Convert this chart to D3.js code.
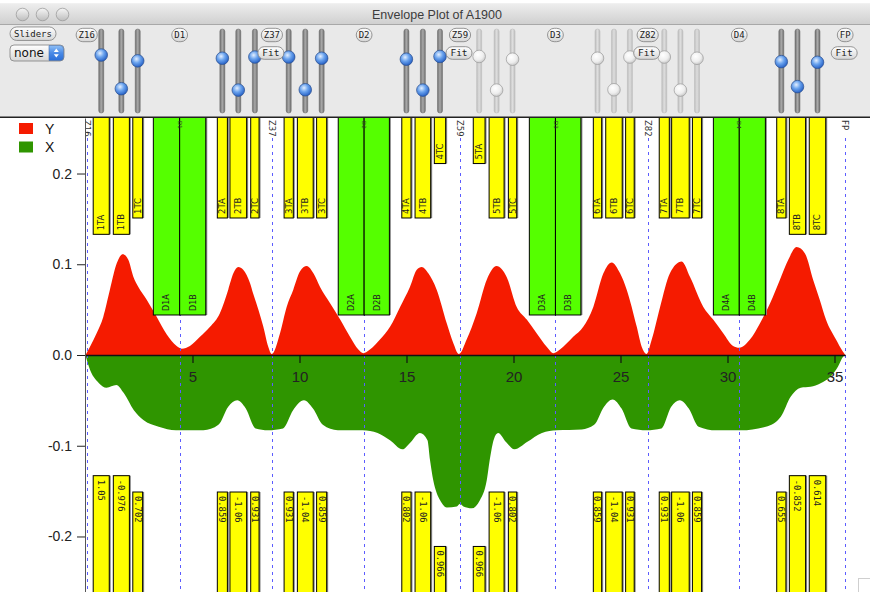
<!DOCTYPE html>
<html><head><meta charset="utf-8">
<script src="https://cdn.jsdelivr.net/npm/d3@7"></script>
<style>html,body{margin:0;padding:0;background:#fff;overflow:hidden}</style>
</head><body>
<svg id="c" width="870" height="592"></svg>
<script>
// ---------------- data ----------------
const title = "Envelope Plot of A1900";
const xTicks = [5, 10, 15, 20, 25, 30, 35];
const yTicks = [-0.2, -0.1, 0.0, 0.1, 0.2];
const seriesNames = ["Y", "X"];

// Y envelope (positive, red)
const envYs = [0,0.21,0.52,0.83,1.14,1.46,1.74,2.0,2.24,2.47,2.86,3.33,3.79,4.26,4.5,4.88,5.35,5.82,6.28,6.67,6.91,7.14,7.37,7.69,7.83,8.08,8.31,8.54,8.7,9.09,9.4,9.71,10.02,10.34,10.65,10.96,11.43,11.9,12.36,12.75,12.98,13.29,13.76,14.23,14.7,15.16,15.48,15.71,16.02,16.41,16.88,17.19,17.45,17.81,18.28,18.75,19.21,19.68,20.15,20.62,21.08,21.55,21.86,22.17,22.79,23.26,23.73,24.2,24.59,24.98,25.29,25.76,25.99,26.22,26.46,26.85,27.31,27.86,28.25,28.87,29.33,29.8,30.26,30.55,31.05,31.52,31.99,32.45,32.84,33.23,33.62,34.0,34.31,34.6,35.07,35.38,35.5];
const envYv = [0,0.009,0.024,0.042,0.072,0.101,0.111,0.105,0.086,0.075,0.061,0.042,0.023,0.010,0.007,0.010,0.020,0.031,0.046,0.072,0.090,0.097,0.094,0.079,0.068,0.050,0.031,0.009,0.001,0.024,0.053,0.072,0.092,0.098,0.090,0.075,0.057,0.039,0.020,0.006,0.002,0.006,0.017,0.031,0.053,0.075,0.094,0.097,0.090,0.072,0.035,0.013,0.001,0.017,0.046,0.083,0.098,0.086,0.053,0.039,0.024,0.009,0.002,0.006,0.020,0.031,0.053,0.090,0.102,0.090,0.072,0.031,0.009,0.001,0.017,0.053,0.090,0.103,0.086,0.053,0.039,0.024,0.010,0.008,0.017,0.035,0.057,0.083,0.105,0.119,0.112,0.083,0.061,0.039,0.017,0.004,0];

// X envelope (negative, green)
const envXs = [0,0.16,0.63,0.98,1.44,1.79,2.26,2.72,3.42,4.23,5.51,6.21,6.67,7.09,7.49,7.95,8.53,9.23,9.7,10.21,10.63,11.09,11.79,12.95,13.65,14.23,14.81,15.16,15.63,15.98,16.1,16.25,16.41,16.57,16.88,17.35,17.5,17.66,18.05,18.43,18.75,18.9,19.08,19.28,19.65,20.05,20.63,21.33,22.02,23.19,23.77,24.23,24.63,25.05,25.51,26.21,26.91,27.37,27.77,28.19,28.65,29.47,30.63,31.79,32.49,32.95,33.42,33.88,34.35,34.81,35.16,35.4,35.5];
const envXv = [0,-0.013,-0.031,-0.036,-0.033,-0.042,-0.061,-0.072,-0.079,-0.083,-0.083,-0.077,-0.057,-0.050,-0.059,-0.081,-0.083,-0.081,-0.061,-0.050,-0.059,-0.077,-0.083,-0.083,-0.086,-0.094,-0.104,-0.097,-0.086,-0.094,-0.116,-0.138,-0.152,-0.160,-0.168,-0.167,-0.164,-0.167,-0.169,-0.160,-0.138,-0.114,-0.093,-0.086,-0.096,-0.104,-0.096,-0.086,-0.083,-0.082,-0.077,-0.057,-0.049,-0.059,-0.081,-0.083,-0.081,-0.057,-0.050,-0.059,-0.079,-0.083,-0.083,-0.079,-0.068,-0.046,-0.036,-0.035,-0.031,-0.024,-0.013,-0.002,0];

// optical markers
const markerNames = ["Z16","D1","Z37","D2","Z59","D3","Z82","D4","FP"];
const markerPos   = [0.08, 4.40, 8.71, 13.02, 17.5, 21.96, 26.27, 30.55, 35.5];
const fitMarkers  = ["Z37","Z59","Z82","FP"];

// quadrupoles
const quadNames = ["1TA","1TB","1TC","2TA","2TB","2TC","3TA","3TB","3TC","4TA","4TB","4TC","5TA","5TB","5TC","6TA","6TB","6TC","7TA","7TB","7TC","8TA","8TB","8TC"];
const quadStart = [0.36,1.30,2.21,6.16,6.75,7.72,9.28,9.90,10.80,14.78,15.40,16.30,18.12,18.86,19.76,23.73,24.31,25.24,26.81,27.39,28.36,32.30,32.89,33.82];
const quadEnd   = [1.11,2.05,2.67,6.63,7.53,8.11,9.71,10.64,11.27,15.21,16.13,16.83,18.67,19.56,20.15,24.12,25.08,25.64,27.28,28.21,28.79,32.73,33.65,34.59];
const quadStrength = ["1.05","-0.976","0.702","0.859","-1.06","0.931","0.931","-1.04","0.859","0.802","-1.06","0.966","0.966","-1.06","0.802","0.859","-1.04","0.931","0.931","-1.06","0.859","0.655","-0.852","0.614"];
const quadReach = [0.133,0.133,0.151,0.151,0.151,0.151,0.151,0.151,0.151,0.151,0.151,0.211,0.211,0.151,0.151,0.151,0.151,0.151,0.151,0.151,0.151,0.151,0.133,0.133];
const quadSliderOn = [1,1,1,1,1,1,1,1,1,1,1,1,0,0,0,0,0,0,0,0,0,1,1,1];

// dipoles
const dipoleNames = ["D1A","D1B","D2A","D2B","D3A","D3B","D4A","D4B"];
const dipoleStart = [3.17,4.40,11.81,13.02,20.74,21.96,29.34,30.55];
const dipoleEnd   = [4.40,5.62,13.02,14.20,21.96,23.15,30.55,31.77];
const dipoleReach = 0.0441;

// ---------------- drawing ----------------
const W = 870, H = 592;
const svg = d3.select("#c");
const defs = svg.append("defs");

function linGrad(id, stops, vertical=true){
  const g = defs.append("linearGradient").attr("id", id)
    .attr("x1",0).attr("y1",0).attr("x2", vertical?0:1).attr("y2", vertical?1:0);
  stops.forEach(s => g.append("stop").attr("offset", s[0]).attr("stop-color", s[1]));
}
function radGrad(id, stops){
  const g = defs.append("radialGradient").attr("id", id).attr("cx","40%").attr("cy","35%").attr("r","70%");
  stops.forEach(s => g.append("stop").attr("offset", s[0]).attr("stop-color", s[1]));
}
linGrad("titleG", [[0,"#eeeeee"],[1,"#cfcfcf"]]);
linGrad("pillG", [[0,"#ffffff"],[1,"#d6d6d6"]]);
linGrad("selG", [[0,"#8fc0f7"],[0.5,"#4a8ae6"],[1,"#2a6ed8"]]);
linGrad("tlG", [[0,"#f6f6f6"],[1,"#bdbdbd"]]);
linGrad("trackOn", [[0,"#6e6e6e"],[0.5,"#a9a9a9"],[1,"#6e6e6e"]], false);
linGrad("trackOff", [[0,"#bdbdbd"],[0.5,"#dedede"],[1,"#bdbdbd"]], false);
radGrad("knobBlue", [[0,"#e3efff"],[0.45,"#6aa3ee"],[1,"#1d58c0"]]);
radGrad("knobWhite", [[0,"#ffffff"],[0.6,"#eeeeee"],[1,"#c4c4c4"]]);

const x = d3.scaleLinear().domain([0, 35.5]).range([85.5, 845.2]);
const y = d3.scaleLinear().domain([-0.2612, 0.2612]).range([592, 118]);
const knobY = d3.scaleLinear().domain([-2.5, 2.5]).range([114, 31]);

// ---- window chrome / toolbar ----
svg.append("rect").attr("x",0).attr("y",0).attr("width",W).attr("height",118).attr("fill","#e9e9e9");
svg.append("rect").attr("x",0).attr("y",0).attr("width",W).attr("height",3.5).attr("fill","#fff");
svg.append("rect").attr("x",0).attr("y",3.5).attr("width",W).attr("height",21).attr("fill","url(#titleG)");
svg.append("line").attr("x1",0).attr("x2",W).attr("y1",24.5).attr("y2",24.5).attr("stroke","#a8a8a8");
[22.5, 42.5, 62.5].forEach(cx => svg.append("circle").attr("cx",cx).attr("cy",14.5).attr("r",6.3)
  .attr("fill","url(#tlG)").attr("stroke","#9c9c9c").attr("stroke-width",0.8));
svg.append("text").attr("x",437).attr("y",19).attr("text-anchor","middle")
  .attr("font-family","Liberation Sans, Arial, sans-serif").attr("font-size",12.5).attr("fill","#3c3c3c").text(title);

function pill(cx, cy, w, h, label, fs){
  svg.append("rect").attr("x",cx-w/2).attr("y",cy-h/2).attr("width",w).attr("height",h)
    .attr("rx",h/2).attr("fill","url(#pillG)").attr("stroke","#8a8a8a").attr("stroke-width",0.9);
  svg.append("text").attr("x",cx).attr("y",cy).attr("dy","0.36em").attr("text-anchor","middle")
    .attr("font-family","DejaVu Sans Mono, monospace").attr("font-size",fs).attr("fill","#222").text(label);
}
// Sliders button & select
pill(33, 33.7, 46, 13.5, "Sliders", 9);
svg.append("rect").attr("x",10).attr("y",45).attr("width",54).attr("height",16).attr("rx",4)
  .attr("fill","url(#pillG)").attr("stroke","#8a8a8a").attr("stroke-width",0.9);
svg.append("path").attr("d","M49,45.5 H60 a3.5,3.5 0 0 1 3.5,3.5 V57 a3.5,3.5 0 0 1 -3.5,3.5 H49 Z").attr("fill","url(#selG)").attr("stroke","#4a6fa8").attr("stroke-width",0.6);
svg.append("path").attr("d","M53.8,52 L56.3,48.6 L58.8,52 Z M53.8,54.2 L56.3,57.6 L58.8,54.2 Z").attr("fill","#fff");
svg.append("text").attr("x",14).attr("y",57.3).attr("font-family","DejaVu Sans, sans-serif").attr("font-size",12).attr("fill","#111").text("none");

// sliders (one per quadrupole)
quadNames.forEach((q,i)=>{
  const cx = x((quadStart[i]+quadEnd[i])/2);
  svg.append("rect").attr("x",cx-2.5).attr("y",29).attr("width",5).attr("height",84).attr("rx",2.5)
    .attr("fill", quadSliderOn[i] ? "url(#trackOn)" : "url(#trackOff)")
    .attr("stroke", quadSliderOn[i] ? "#666" : "#b8b8b8").attr("stroke-width",0.5);
});
quadNames.forEach((q,i)=>{
  const cx = x((quadStart[i]+quadEnd[i])/2);
  svg.append("circle").attr("cx",cx).attr("cy",knobY(+quadStrength[i])).attr("r",6.3)
    .attr("fill", quadSliderOn[i] ? "url(#knobBlue)" : "url(#knobWhite)")
    .attr("stroke", quadSliderOn[i] ? "#2b4f8e" : "#9a9a9a").attr("stroke-width",0.7);
});
// marker pills + Fit buttons
markerNames.forEach((m,i)=>{
  const cx = x(markerPos[i]) + (i===0 ? -0.5 : 0);
  pill(cx, 35, m.length*5.4+5, 13.4, m, 9);
  if (fitMarkers.includes(m)) pill(cx-1, 53, 26, 12.6, "Fit", 9.5);
});

// separator
svg.append("rect").attr("x",0).attr("y",116.5).attr("width",W).attr("height",1.5).attr("fill","#222");

// ---- plot area ----
svg.append("clipPath").attr("id","plotClip").append("rect").attr("x",85).attr("y",118).attr("width",W-85).attr("height",H-118);
const plot = svg.append("g").attr("clip-path","url(#plotClip)");

const ptsY = envYs.map((s,i)=>[s, envYv[i]]);
const ptsX = envXs.map((s,i)=>[s, envXv[i]]);
const area = d3.area().x(d=>x(d[0])).y0(y(0)).y1(d=>y(d[1])).curve(d3.curveMonotoneX);
plot.append("path").datum(ptsX).attr("d",area).attr("fill","#2f9500");
plot.append("path").datum(ptsY).attr("d",area).attr("fill","#f51b00");

// marker dashed lines
markerNames.forEach((m,i)=>{
  const px = Math.round(x(markerPos[i])) + 0.5;
  plot.append("line").attr("x1",px).attr("x2",px)
    .attr("y1",138).attr("y2",H).attr("stroke","#5c5cff").attr("stroke-width",1)
    .attr("stroke-dasharray","3,4");
});

// axes
const xAxis = d3.axisBottom(x).tickValues(xTicks).tickSize(8).tickSizeOuter(0).tickPadding(8)
  .tickFormat(d=>String(d));
const gx = svg.append("g").attr("transform",`translate(0,${y(0)})`).call(xAxis);
gx.select(".domain").attr("stroke","#111").attr("stroke-width",1.6);
gx.selectAll(".tick line").attr("stroke","#111").attr("stroke-width",1.2);
gx.selectAll("text").attr("font-family","Liberation Sans, Arial, sans-serif").attr("font-size",15).attr("fill","#222");

const yAxis = d3.axisLeft(y).tickValues(yTicks).tickSize(8).tickSizeOuter(0).tickPadding(5)
  .tickFormat(d=>d.toFixed(1));
const gy = svg.append("g").attr("transform",`translate(85,0)`).call(yAxis);
gy.select(".domain").attr("stroke","#555").attr("stroke-width",1);
gy.selectAll(".tick line").attr("stroke","#222");
gy.selectAll("text").attr("font-family","Liberation Sans, Arial, sans-serif").attr("font-size",14).attr("fill","#222");

// bars: shadow + body
function bar(x0, x1, y0, y1, fill){
  plot.append("rect").attr("x",x(x0)+1.5).attr("y",Math.min(y0,y1)).attr("width",x(x1)-x(x0)).attr("height",Math.abs(y1-y0))
    .attr("fill","#8a8a8a");
  plot.append("rect").attr("x",x(x0)).attr("y",Math.min(y0,y1)).attr("width",x(x1)-x(x0)).attr("height",Math.abs(y1-y0))
    .attr("fill",fill).attr("stroke","#000").attr("stroke-width",1);
}
// dipoles (top only)
dipoleNames.forEach((d,i)=>{
  bar(dipoleStart[i], dipoleEnd[i], y.range()[1]-2, y(dipoleReach), "#55ff00");
});
dipoleNames.forEach((d,i)=>{
  const cx = x((dipoleStart[i]+dipoleEnd[i])/2);
  plot.append("text").attr("transform",`translate(${cx},${y(dipoleReach)-4}) rotate(-90)`)
    .attr("dy","0.35em").attr("font-family","DejaVu Sans, sans-serif").attr("font-size",8).attr("fill","#222").text(d);
});
// quads top & bottom
quadNames.forEach((q,i)=>{
  bar(quadStart[i], quadEnd[i], y.range()[1]-2, y(quadReach[i]), "#ffff00");
  bar(quadStart[i], quadEnd[i], y(-quadReach[i]), H+2, "#ffff00");
});
quadNames.forEach((q,i)=>{
  const cx = x((quadStart[i]+quadEnd[i])/2);
  plot.append("text").attr("transform",`translate(${cx},${y(quadReach[i])-4}) rotate(-90)`)
    .attr("dy","0.35em").attr("font-family","DejaVu Sans, sans-serif").attr("font-size",8.5).attr("fill","#222").text(q);
  plot.append("text").attr("transform",`translate(${cx},${y(-quadReach[i])+4}) rotate(90)`)
    .attr("dy","0.35em").attr("font-family","DejaVu Sans Mono, monospace").attr("font-size",8.8).attr("fill","#222").text(quadStrength[i]);
});
// marker labels on plot top
markerNames.forEach((m,i)=>{
  const isD = m[0]==="D";
  plot.append("text").attr("transform",`translate(${x(markerPos[i])},${isD?121:120}) rotate(90)`)
    .attr("dy","0.35em").attr("font-family","DejaVu Sans, sans-serif").attr("font-size",isD?5.5:8.5)
    .attr("fill","#333").text(m);
});

// legend
const legColors = ["#f51b00","#2f9500"];
seriesNames.forEach((s,i)=>{
  svg.append("rect").attr("x",19).attr("y",123+i*18.5).attr("width",14).attr("height",11).attr("fill",legColors[i]);
  svg.append("text").attr("x",45).attr("y",133.5+i*18).attr("font-family","Liberation Sans, Arial, sans-serif")
    .attr("font-size",14).attr("fill","#111").text(s);
});

// resize corner
svg.append("rect").attr("x",858.5).attr("y",578.5).attr("width",12).attr("height",14).attr("fill","#fff").attr("stroke","#cfcfcf");
</script></body></html>
